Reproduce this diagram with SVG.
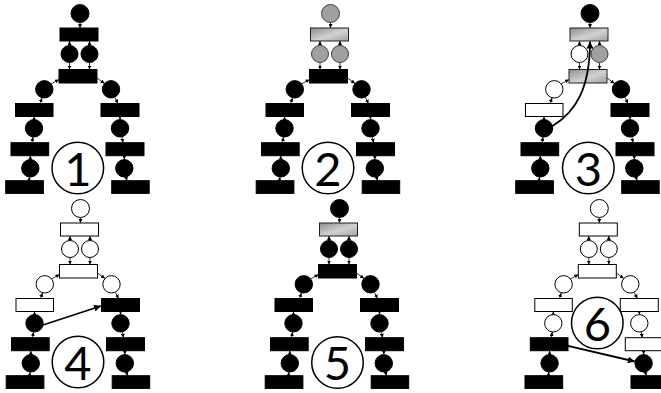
<svg xmlns="http://www.w3.org/2000/svg" width="661" height="393" viewBox="0 0 661 393">
<defs>
<linearGradient id="gg" x1="0" y1="0" x2="1" y2="1">
<stop offset="0" stop-color="#8e8e8e"/>
<stop offset="0.55" stop-color="#d2d2d2"/>
<stop offset="1" stop-color="#a0a0a0"/>
</linearGradient>
<marker id="ah" viewBox="0 0 10 10" refX="10" refY="5" markerWidth="4" markerHeight="4" markerUnits="userSpaceOnUse" orient="auto">
<path d="M0,0 L10,5 L0,10 z" fill="#000"/>
</marker>
<marker id="ahb" viewBox="0 0 10 10" refX="10" refY="5" markerWidth="7" markerHeight="7" markerUnits="userSpaceOnUse" orient="auto">
<path d="M0,0 L10,5 L0,10 z" fill="#000"/>
</marker>
</defs>
<style>
.b{fill:#000;stroke:#000;stroke-width:1}
.w{fill:#fff;stroke:#000;stroke-width:1}
.g{fill:#a0a0a0;stroke:#404040;stroke-width:1}
.gr{fill:url(#gg);stroke:#202020;stroke-width:1}
.e{fill:none;stroke:#000;stroke-width:0.8;marker-end:url(#ah)}
.big{fill:none;stroke:#000;stroke-width:1.8;marker-end:url(#ahb)}
.num{fill:#fff;stroke:#000;stroke-width:1.5}
.nt{font-family:Lato,"Liberation Sans",sans-serif;font-weight:400;font-size:47px;fill:#000;text-anchor:middle}
</style>

<!-- Panel 1 -->
<g id="panel1">
<g id="p1-edges">
<path class="e" d="M80,22.5 L80,28"/><path class="e" d="M69.5,45.5 L69.5,41"/><path class="e" d="M89.5,45.5 L89.5,41"/>
<path class="e" d="M69.5,62.5 L69.5,69.5"/><path class="e" d="M89.5,62.5 L89.5,69.5"/>
<path class="e" d="M51,84 L59,79.5"/><path class="e" d="M97,78 L104.5,83.5"/>
<path class="e" d="M40,103.5 L42,98"/><path class="e" d="M115,97.5 L118,103.5"/>
<path class="e" d="M34,119.5 L34,116.5"/><path class="e" d="M32,142.7 L33,137"/>
<path class="e" d="M30.3,159.5 L30.3,155.7"/><path class="e" d="M29,180.7 L29.5,177"/>
<path class="e" d="M120,116.5 L120,119.5"/><path class="e" d="M122,137 L123,142.7"/>
<path class="e" d="M124.3,155.7 L124.3,159.5"/><path class="e" d="M126,177 L127,180.7"/>
</g>
<g id="p1-P0"><circle class="b" cx="80" cy="13.5" r="9"/></g>
<g id="p1-T1"><rect class="b" x="60" y="28" width="38" height="13"/></g>
<g id="p1-P1a"><circle class="b" cx="69.5" cy="54" r="8.5"/></g>
<g id="p1-P1b"><circle class="b" cx="89.5" cy="54" r="8.5"/></g>
<g id="p1-T2"><rect class="b" x="59" y="69.5" width="38" height="13.5"/></g>
<g id="p1-P2L"><circle class="b" cx="44.3" cy="89.3" r="8.7"/></g>
<g id="p1-P2R"><circle class="b" cx="111" cy="89.3" r="8.7"/></g>
<g id="p1-T3L"><rect class="b" x="15.5" y="103.5" width="37.5" height="13"/></g>
<g id="p1-T3R"><rect class="b" x="101" y="103.5" width="38" height="13"/></g>
<g id="p1-P3L"><circle class="b" cx="34" cy="128.3" r="8.7"/></g>
<g id="p1-P3R"><circle class="b" cx="120" cy="128.3" r="8.7"/></g>
<g id="p1-T4L"><rect class="b" x="11" y="142.7" width="37.7" height="13"/></g>
<g id="p1-T4R"><rect class="b" x="106" y="142.7" width="38" height="13"/></g>
<g id="p1-P4L"><circle class="b" cx="30.3" cy="168.3" r="8.7"/></g>
<g id="p1-P4R"><circle class="b" cx="124.3" cy="168.3" r="8.7"/></g>
<g id="p1-T5L"><rect class="b" x="5.7" y="180.7" width="37.7" height="12.7"/></g>
<g id="p1-T5R"><rect class="b" x="111.7" y="180.7" width="37.5" height="12.7"/></g>
<g id="p1-num"><circle class="num" cx="77.8" cy="168" r="25.8"/><text class="nt" x="77.8" y="185.5">1</text></g>
</g>

<!-- Panel 2 -->
<g id="panel2" transform="translate(250.5,0)">
<g id="p2-edges">
<path class="e" d="M80,22.5 L80,28"/><path class="e" d="M69.5,45.5 L69.5,41"/><path class="e" d="M89.5,45.5 L89.5,41"/>
<path class="e" d="M69.5,62.5 L69.5,69.5"/><path class="e" d="M89.5,62.5 L89.5,69.5"/>
<path class="e" d="M51,84 L59,79.5"/><path class="e" d="M97,78 L104.5,83.5"/>
<path class="e" d="M40,103.5 L42,98"/><path class="e" d="M115,97.5 L118,103.5"/>
<path class="e" d="M34,119.5 L34,116.5"/><path class="e" d="M32,142.7 L33,137"/>
<path class="e" d="M30.3,159.5 L30.3,155.7"/><path class="e" d="M29,180.7 L29.5,177"/>
<path class="e" d="M120,116.5 L120,119.5"/><path class="e" d="M122,137 L123,142.7"/>
<path class="e" d="M124.3,155.7 L124.3,159.5"/><path class="e" d="M126,177 L127,180.7"/>
</g>
<g id="p2-P0"><circle class="g" cx="80" cy="13.5" r="9"/></g>
<g id="p2-T1"><rect class="gr" x="60" y="28" width="38" height="13"/></g>
<g id="p2-P1a"><circle class="g" cx="69.5" cy="54" r="8.5"/></g>
<g id="p2-P1b"><circle class="g" cx="89.5" cy="54" r="8.5"/></g>
<g id="p2-T2"><rect class="b" x="59" y="69.5" width="38" height="13.5"/></g>
<g id="p2-P2L"><circle class="b" cx="44.3" cy="89.3" r="8.7"/></g>
<g id="p2-P2R"><circle class="b" cx="111" cy="89.3" r="8.7"/></g>
<g id="p2-T3L"><rect class="b" x="15.5" y="103.5" width="37.5" height="13"/></g>
<g id="p2-T3R"><rect class="b" x="101" y="103.5" width="38" height="13"/></g>
<g id="p2-P3L"><circle class="b" cx="34" cy="128.3" r="8.7"/></g>
<g id="p2-P3R"><circle class="b" cx="120" cy="128.3" r="8.7"/></g>
<g id="p2-T4L"><rect class="b" x="11" y="142.7" width="37.7" height="13"/></g>
<g id="p2-T4R"><rect class="b" x="106" y="142.7" width="38" height="13"/></g>
<g id="p2-P4L"><circle class="b" cx="30.3" cy="168.3" r="8.7"/></g>
<g id="p2-P4R"><circle class="b" cx="124.3" cy="168.3" r="8.7"/></g>
<g id="p2-T5L"><rect class="b" x="5.7" y="180.7" width="37.7" height="12.7"/></g>
<g id="p2-T5R"><rect class="b" x="111.7" y="180.7" width="37.5" height="12.7"/></g>
<g id="p2-num"><circle class="num" cx="77.5" cy="168" r="25.8"/><text class="nt" x="77.5" y="185.5">2</text></g>
</g>

<!-- Panel 3 -->
<g id="panel3" transform="translate(510,0)">
<g id="p3-edges">
<path class="e" d="M80,22.5 L80,28"/><path class="e" d="M69.5,45.5 L69.5,41"/><path class="e" d="M89.5,45.5 L89.5,41"/>
<path class="e" d="M69.5,62.5 L69.5,69.5"/><path class="e" d="M89.5,62.5 L89.5,69.5"/>
<path class="e" d="M51,84 L59,79.5"/><path class="e" d="M97,78 L104.5,83.5"/>
<path class="e" d="M40,103.5 L42,98"/><path class="e" d="M115,97.5 L118,103.5"/>
<path class="e" d="M34,119.5 L34,116.5"/><path class="e" d="M32,142.7 L33,137"/>
<path class="e" d="M30.3,159.5 L30.3,155.7"/><path class="e" d="M29,180.7 L29.5,177"/>
<path class="e" d="M120,116.5 L120,119.5"/><path class="e" d="M122,137 L123,142.7"/>
<path class="e" d="M124.3,155.7 L124.3,159.5"/><path class="e" d="M126,177 L127,180.7"/>
</g>
<g id="p3-P0"><circle class="b" cx="80" cy="13.5" r="9"/></g>
<g id="p3-T1"><rect class="gr" x="60" y="28" width="38" height="13"/></g>
<g id="p3-P1a"><circle class="w" cx="69.5" cy="54" r="8.5"/></g>
<g id="p3-P1b"><circle class="g" cx="89.5" cy="54" r="8.5"/></g>
<g id="p3-T2"><rect class="gr" x="59" y="69.5" width="38" height="13.5"/></g>
<g id="p3-P2L"><circle class="w" cx="44.3" cy="89.3" r="8.7"/></g>
<g id="p3-P2R"><circle class="b" cx="111" cy="89.3" r="8.7"/></g>
<g id="p3-T3L"><rect class="w" x="15.5" y="103.5" width="37.5" height="13"/></g>
<g id="p3-T3R"><rect class="b" x="101" y="103.5" width="38" height="13"/></g>
<g id="p3-P3L"><circle class="b" cx="34" cy="128.3" r="8.7"/></g>
<g id="p3-P3R"><circle class="b" cx="120" cy="128.3" r="8.7"/></g>
<g id="p3-T4L"><rect class="b" x="11" y="142.7" width="37.7" height="13"/></g>
<g id="p3-T4R"><rect class="b" x="106" y="142.7" width="38" height="13"/></g>
<g id="p3-P4L"><circle class="b" cx="30.3" cy="168.3" r="8.7"/></g>
<g id="p3-P4R"><circle class="b" cx="124.3" cy="168.3" r="8.7"/></g>
<g id="p3-T5L"><rect class="b" x="5.7" y="180.7" width="37.7" height="12.7"/></g>
<g id="p3-T5R"><rect class="b" x="111.7" y="180.7" width="37.5" height="12.7"/></g>
<g id="p3-jump"><path class="big" d="M42.5,126 C66,112 80,88 80,41.5"/></g>
<g id="p3-num"><circle class="num" cx="78.3" cy="168" r="25.8"/><text class="nt" x="78.3" y="185.5">3</text></g>
</g>

<!-- Panel 4 -->
<g id="panel4" transform="translate(0.5,195)">
<g id="p4-edges">
<path class="e" d="M80,22.5 L80,28"/><path class="e" d="M69.5,45.5 L69.5,41"/><path class="e" d="M89.5,45.5 L89.5,41"/>
<path class="e" d="M69.5,62.5 L69.5,69.5"/><path class="e" d="M89.5,62.5 L89.5,69.5"/>
<path class="e" d="M51,84 L59,79.5"/><path class="e" d="M97,78 L104.5,83.5"/>
<path class="e" d="M40,103.5 L42,98"/><path class="e" d="M115,97.5 L118,103.5"/>
<path class="e" d="M34,119.5 L34,116.5"/><path class="e" d="M32,142.7 L33,137"/>
<path class="e" d="M30.3,159.5 L30.3,155.7"/><path class="e" d="M29,180.7 L29.5,177"/>
<path class="e" d="M120,116.5 L120,119.5"/><path class="e" d="M122,137 L123,142.7"/>
<path class="e" d="M124.3,155.7 L124.3,159.5"/><path class="e" d="M126,177 L127,180.7"/>
</g>
<g id="p4-P0"><circle class="w" cx="80" cy="13.5" r="9"/></g>
<g id="p4-T1"><rect class="w" x="60" y="28" width="38" height="13"/></g>
<g id="p4-P1a"><circle class="w" cx="69.5" cy="54" r="8.5"/></g>
<g id="p4-P1b"><circle class="w" cx="89.5" cy="54" r="8.5"/></g>
<g id="p4-T2"><rect class="w" x="59" y="69.5" width="38" height="13.5"/></g>
<g id="p4-P2L"><circle class="w" cx="44.3" cy="89.3" r="8.7"/></g>
<g id="p4-P2R"><circle class="w" cx="111" cy="89.3" r="8.7"/></g>
<g id="p4-T3L"><rect class="w" x="15.5" y="103.5" width="37.5" height="13"/></g>
<g id="p4-T3R"><rect class="b" x="101" y="103.5" width="38" height="13"/></g>
<g id="p4-P3L"><circle class="b" cx="34" cy="128.3" r="8.7"/></g>
<g id="p4-P3R"><circle class="b" cx="120" cy="128.3" r="8.7"/></g>
<g id="p4-T4L"><rect class="b" x="11" y="142.7" width="37.7" height="13"/></g>
<g id="p4-T4R"><rect class="b" x="106" y="142.7" width="38" height="13"/></g>
<g id="p4-P4L"><circle class="b" cx="30.3" cy="168.3" r="8.7"/></g>
<g id="p4-P4R"><circle class="b" cx="124.3" cy="168.3" r="8.7"/></g>
<g id="p4-T5L"><rect class="b" x="5.7" y="180.7" width="37.7" height="12.7"/></g>
<g id="p4-T5R"><rect class="b" x="111.7" y="180.7" width="37.5" height="12.7"/></g>
<g id="p4-jump"><path class="big" d="M42.5,130 L100.5,111"/></g>
<g id="p4-num"><circle class="num" cx="77.5" cy="167" r="25.8"/><text class="nt" x="77.5" y="184.5">4</text></g>
</g>

<!-- Panel 5 -->
<g id="panel5" transform="translate(259.5,195)">
<g id="p5-edges">
<path class="e" d="M80,22.5 L80,28"/><path class="e" d="M69.5,45.5 L69.5,41"/><path class="e" d="M89.5,45.5 L89.5,41"/>
<path class="e" d="M69.5,62.5 L69.5,69.5"/><path class="e" d="M89.5,62.5 L89.5,69.5"/>
<path class="e" d="M51,84 L59,79.5"/><path class="e" d="M97,78 L104.5,83.5"/>
<path class="e" d="M40,103.5 L42,98"/><path class="e" d="M115,97.5 L118,103.5"/>
<path class="e" d="M34,119.5 L34,116.5"/><path class="e" d="M32,142.7 L33,137"/>
<path class="e" d="M30.3,159.5 L30.3,155.7"/><path class="e" d="M29,180.7 L29.5,177"/>
<path class="e" d="M120,116.5 L120,119.5"/><path class="e" d="M122,137 L123,142.7"/>
<path class="e" d="M124.3,155.7 L124.3,159.5"/><path class="e" d="M126,177 L127,180.7"/>
</g>
<g id="p5-P0"><circle class="b" cx="80" cy="13.5" r="9"/></g>
<g id="p5-T1"><rect class="gr" x="60" y="28" width="38" height="13"/></g>
<g id="p5-P1a"><circle class="b" cx="69.5" cy="54" r="8.5"/></g>
<g id="p5-P1b"><circle class="b" cx="89.5" cy="54" r="8.5"/></g>
<g id="p5-T2"><rect class="b" x="59" y="69.5" width="38" height="13.5"/></g>
<g id="p5-P2L"><circle class="b" cx="44.3" cy="89.3" r="8.7"/></g>
<g id="p5-P2R"><circle class="b" cx="111" cy="89.3" r="8.7"/></g>
<g id="p5-T3L"><rect class="b" x="15.5" y="103.5" width="37.5" height="13"/></g>
<g id="p5-T3R"><rect class="b" x="101" y="103.5" width="38" height="13"/></g>
<g id="p5-P3L"><circle class="b" cx="34" cy="128.3" r="8.7"/></g>
<g id="p5-P3R"><circle class="b" cx="120" cy="128.3" r="8.7"/></g>
<g id="p5-T4L"><rect class="b" x="11" y="142.7" width="37.7" height="13"/></g>
<g id="p5-T4R"><rect class="b" x="106" y="142.7" width="38" height="13"/></g>
<g id="p5-P4L"><circle class="b" cx="30.3" cy="168.3" r="8.7"/></g>
<g id="p5-P4R"><circle class="b" cx="124.3" cy="168.3" r="8.7"/></g>
<g id="p5-T5L"><rect class="b" x="5.7" y="180.7" width="37.7" height="12.7"/></g>
<g id="p5-T5R"><rect class="b" x="111.7" y="180.7" width="37.5" height="12.7"/></g>
<g id="p5-num"><circle class="num" cx="78" cy="167.5" r="25.8"/><text class="nt" x="78" y="185">5</text></g>
</g>

<!-- Panel 6 -->
<g id="panel6" transform="translate(519.3,195)">
<g id="p6-edges">
<path class="e" d="M80,22.5 L80,28"/><path class="e" d="M69.5,45.5 L69.5,41"/><path class="e" d="M89.5,45.5 L89.5,41"/>
<path class="e" d="M69.5,62.5 L69.5,69.5"/><path class="e" d="M89.5,62.5 L89.5,69.5"/>
<path class="e" d="M51,84 L59,79.5"/><path class="e" d="M97,78 L104.5,83.5"/>
<path class="e" d="M40,103.5 L42,98"/><path class="e" d="M115,97.5 L118,103.5"/>
<path class="e" d="M34,119.5 L34,116.5"/><path class="e" d="M32,142.7 L33,137"/>
<path class="e" d="M30.3,159.5 L30.3,155.7"/><path class="e" d="M29,180.7 L29.5,177"/>
<path class="e" d="M120,116.5 L120,119.5"/><path class="e" d="M122,137 L123,142.7"/>
<path class="e" d="M124.3,155.7 L124.3,159.5"/><path class="e" d="M126,177 L127,180.7"/>
</g>
<g id="p6-P0"><circle class="w" cx="80" cy="13.5" r="9"/></g>
<g id="p6-T1"><rect class="w" x="60" y="28" width="38" height="13"/></g>
<g id="p6-P1a"><circle class="w" cx="69.5" cy="54" r="8.5"/></g>
<g id="p6-P1b"><circle class="w" cx="89.5" cy="54" r="8.5"/></g>
<g id="p6-T2"><rect class="w" x="59" y="69.5" width="38" height="13.5"/></g>
<g id="p6-P2L"><circle class="w" cx="44.3" cy="89.3" r="8.7"/></g>
<g id="p6-P2R"><circle class="w" cx="111" cy="89.3" r="8.7"/></g>
<g id="p6-T3L"><rect class="w" x="15.5" y="103.5" width="37.5" height="13"/></g>
<g id="p6-T3R"><rect class="w" x="101" y="103.5" width="38" height="13"/></g>
<g id="p6-P3L"><circle class="w" cx="34" cy="128.3" r="8.7"/></g>
<g id="p6-P3R"><circle class="w" cx="120" cy="128.3" r="8.7"/></g>
<g id="p6-T4L"><rect class="b" x="11" y="142.7" width="37.7" height="13"/></g>
<g id="p6-T4R"><rect class="w" x="106" y="142.7" width="38" height="13"/></g>
<g id="p6-P4L"><circle class="b" cx="30.3" cy="168.3" r="8.7"/></g>
<g id="p6-P4R"><circle class="b" cx="124.3" cy="168.3" r="8.7"/></g>
<g id="p6-T5L"><rect class="b" x="5.7" y="180.7" width="37.7" height="12.7"/></g>
<g id="p6-T5R"><rect class="b" x="111.7" y="180.7" width="37.5" height="12.7"/></g>
<g id="p6-jump"><path class="big" d="M47.5,150.7 L115.5,166.5"/></g>
<g id="p6-num"><circle class="num" cx="78" cy="128" r="25.8"/><text class="nt" x="78" y="145.5">6</text></g>
</g>
</svg>
